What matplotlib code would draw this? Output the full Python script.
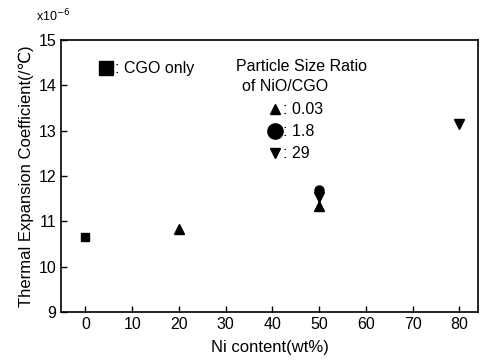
import numpy as np
import matplotlib.pyplot as plt

plt.rcParams['font.family'] = ['Liberation Sans', 'DejaVu Sans']

# Ni content (wt%) and thermal expansion coefficient (x1e-6 /C)
cgo_x = [0]
cgo_y = [10.65]
r003_x = [20, 50]
r003_y = [10.82, 11.33]
r18_x = [50]
r18_y = [11.68]
r29_x = [50, 80]
r29_y = [11.53, 13.15]

xticks = [0, 10, 20, 30, 40, 50, 60, 70, 80]
yticks = [9, 10, 11, 12, 13, 14, 15]

fig = plt.figure(figsize=(4.81, 3.62), dpi=100)
ax = fig.add_axes([0.127, 0.138, 0.867, 0.752])

ax.plot(cgo_x, cgo_y, 's', color='black', ms=5.5)
ax.plot(r003_x, r003_y, '^', color='black', ms=6.5)
ax.plot(r18_x, r18_y, 'o', color='black', ms=6.5)
ax.plot(r29_x, r29_y, 'v', color='black', ms=6.5)

ax.set_xlim(-5.2, 84)
ax.set_ylim(9, 15)
ax.set_xticks(xticks)
ax.set_yticks(yticks)
ax.tick_params(direction='in', length=4, labelsize=11.5, width=1)
for s in ax.spines.values():
    s.set_linewidth(1.2)

ax.set_xlabel('Ni content(wt%)', fontsize=12, labelpad=6)
ax.set_ylabel('Thermal Expansion Coefficient(/\u2103)', fontsize=12, labelpad=3)
fig.text(0.075, 0.94, r'x10$^{-6}$', fontsize=9)

# legend drawn as text annotations inside the axes
ax.plot([4.5], [14.37], 's', color='black', ms=10)
ax.text(6.4, 14.37, ': CGO only', fontsize=11.5, va='center')
ax.text(32.3, 14.42, 'Particle Size Ratio', fontsize=11.5, va='center')
ax.text(33.5, 13.98, 'of NiO/CGO', fontsize=11.5, va='center')
ax.plot([40.6], [13.47], '^', color='black', ms=7.5)
ax.text(42.2, 13.47, ': 0.03', fontsize=11.5, va='center')
ax.plot([40.6], [12.98], 'o', color='black', ms=11)
ax.text(42.2, 12.98, ': 1.8', fontsize=11.5, va='center')
ax.plot([40.6], [12.5], 'v', color='black', ms=7.5)
ax.text(42.2, 12.5, ': 29', fontsize=11.5, va='center')

fig.savefig('out.png', dpi=100)
